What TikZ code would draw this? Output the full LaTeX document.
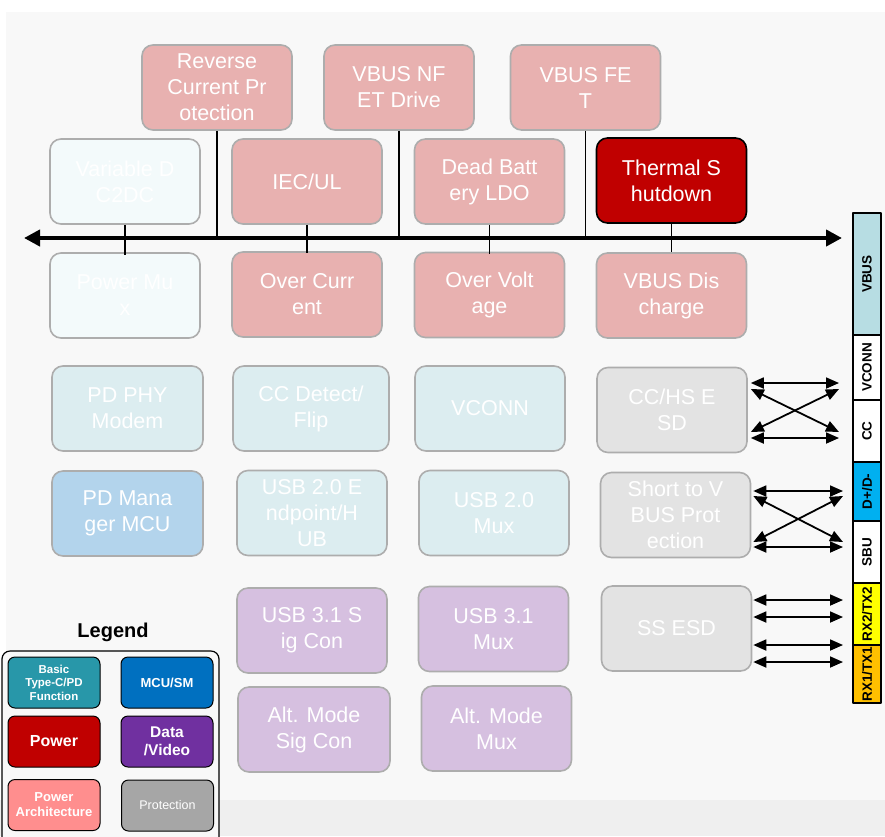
\documentclass[tikz,border=0pt]{standalone}
\usepackage{fontspec}
\setmainfont{Liberation Sans}
\usetikzlibrary{arrows.meta,calc}

\definecolor{panel}{HTML}{F8F8F8}
\definecolor{floorgray}{HTML}{EFEFEF}
\definecolor{bordergray}{HTML}{ADADAD}
\definecolor{pafade}{HTML}{E8B1B0}
\definecolor{basicfade}{HTML}{DCEDF0}
\definecolor{basicpale}{HTML}{F3FAFB}
\definecolor{mcufade}{HTML}{B3D4EC}
\definecolor{datafade}{HTML}{D6C0E0}
\definecolor{protfade}{HTML}{E3E3E3}
\definecolor{powerred}{HTML}{C00000}
\definecolor{basicteal}{HTML}{2897A9}
\definecolor{mcublue}{HTML}{0070C0}
\definecolor{datapurple}{HTML}{7030A0}
\definecolor{palegend}{HTML}{FF8E8E}
\definecolor{protgray}{HTML}{A6A6A6}
\definecolor{vbusteal}{HTML}{B7DDE3}
\definecolor{dpdmblue}{HTML}{00B0F0}
\definecolor{rxtwo}{HTML}{FFFF00}
\definecolor{rxone}{HTML}{FFC000}

\begin{document}
\begin{tikzpicture}[x=1pt,y=-1pt,line join=round,every node/.style={inner sep=1pt},
  blk/.style={draw=bordergray,line width=1.6pt,rounded corners=11pt,minimum width=150pt,minimum height=85pt,align=center,text=white,font=\fontsize{21.5}{26}\selectfont},
  legitem/.style={draw=black,line width=1pt,rounded corners=7pt,minimum width=92pt,minimum height=51pt,align=center,text=white,font=\bfseries\fontsize{12}{14}\selectfont},
  pinseg/.style={draw=black,line width=1.3pt,minimum height=28pt,rotate=90,inner sep=0pt,font=\bfseries\fontsize{13.5}{15}\selectfont},
  busline/.style={{Triangle[length=16pt,width=16pt]}-{Triangle[length=16pt,width=16pt]},line width=4pt},
  tick/.style={line width=1.8pt},
  sig/.style={{Triangle[length=13pt,width=11pt]}-{Triangle[length=13pt,width=11pt]},line width=1.8pt}]
  \def\pinl{839}
  \def\pinr{843}
  % background
  \clip (0,0) rectangle (885,836);
  \fill[white] (0,0) rectangle (885,836);
  \fill[panel] (6,12) rectangle (885,800);
  \fill[floorgray] (0,800) rectangle (885,836);
  % top row: power architecture
  \node[blk,fill=pafade] (rcp) at (217,87.5) {Reverse\\Current Pr\\otection};
  \node[blk,fill=pafade] (nfet) at (399,87.5) {VBUS NF\\ET Drive};
  \node[blk,fill=pafade] (fet) at (585.5,87.5) {VBUS FE\\T};
  % row above the bus
  \node[blk,fill=basicpale] (dcdc) at (125,181.5) {Variable D\\C2DC};
  \node[blk,fill=pafade] (iec) at (307,181.5) {IEC/UL};
  \node[blk,fill=pafade] (dbl) at (489.5,181.5) {Dead Batt\\ery LDO};
  \node[blk,draw=black,fill=powerred] (tsd) at (671.5,180.5) {Thermal S\\hutdown};
  % row below the bus
  \node[blk,fill=basicpale] (pmux) at (125,295.5) {Power Mu\\x};
  \node[blk,fill=pafade] (ocp) at (307,294.5) {Over Curr\\ent};
  \node[blk,fill=pafade] (ovp) at (489.5,295) {Over Volt\\age};
  \node[blk,fill=pafade] (vdis) at (671.5,295.5) {VBUS Dis\\charge};
  % bus
  \coordinate (busL) at (24,238);
  \coordinate (busR) at (842,238);
  \draw[busline] (busL) -- (busR);
  \draw[tick] (rcp.south) -- (rcp.south |- busL);
  \draw[tick] (nfet.south) -- (nfet.south |- busL);
  \draw[tick] (fet.south) -- (fet.south |- busL);
  \draw[tick] (dcdc.south) -- ([yshift=-3pt]pmux.north);
  \draw[tick] (iec.south) -- ([yshift=-2pt]ocp.north);
  \draw[tick] (dbl.south) -- ([yshift=-2pt]ovp.north);
  \draw[tick] (tsd.south) -- (vdis.north);
  % row 4
  \node[blk,fill=basicfade,minimum width=151pt] (phy) at (127.5,408.5) {PD PHY\\Modem};
  \node[blk,fill=basicfade,minimum width=156pt] (ccd) at (311,408.5) {CC Detect/\\Flip};
  \node[blk,fill=basicfade] (vcn) at (490,408.5) {VCONN};
  \node[blk,fill=protfade] (cchs) at (672,410) {CC/HS E\\SD};
  % row 5
  \node[blk,fill=mcufade,minimum width=151pt] (pdm) at (127.5,513.5) {PD Mana\\ger MCU};
  \node[blk,fill=basicfade] (usbe) at (312,513) {USB 2.0 E\\ndpoint/H\\UB};
  \node[blk,fill=basicfade] (usbm) at (494,513) {USB 2.0\\Mux};
  \node[blk,fill=protfade] (stv) at (675.5,515) {Short to V\\BUS Prot\\ection};
  % row 6 and 7: data/video
  \node[blk,fill=datafade] (u31s) at (312,630.5) {USB 3.1 S\\ig Con};
  \node[blk,fill=datafade] (u31m) at (493.5,629) {USB 3.1\\Mux};
  \node[blk,fill=protfade] (ssesd) at (676.5,628.5) {SS ESD};
  \node[blk,fill=datafade,minimum width=152pt] (alts) at (314,729.5) {Alt. Mode\\Sig Con};
  \node[blk,fill=datafade] (altm) at (496.5,728.5) {Alt. Mode\\Mux};
  % connector pins
  \node[pinseg,fill=vbusteal,minimum width=122pt] (vbus) at (867,274) {VBUS};
  \node[pinseg,fill=white,minimum width=65pt] (vconn) at (867,367.5) {VCONN};
  \node[pinseg,fill=white,minimum width=62pt] (cc) at (867,431) {CC};
  \node[pinseg,fill=dpdmblue,minimum width=59pt] (dpdm) at (867,491.5) {D+/D-};
  \node[pinseg,fill=white,minimum width=62pt] (sbu) at (867,552) {SBU};
  \node[pinseg,fill=rxtwo,minimum width=62pt] (rxb) at (867,614) {RX2/TX2};
  \node[pinseg,fill=rxone,minimum width=58pt] (rxa) at (867,674) {RX1/TX1};
  % esd lines to the pins
  \coordinate (cchsR) at ([xshift=3pt]cchs.east);
  \coordinate (stvR) at ([xshift=2pt]stv.east);
  \coordinate (ssR) at ([xshift=1pt]ssesd.east);
  \coordinate (vconnIn) at (\pinl,383);
  \coordinate (ccIn) at (\pinl,438);
  \coordinate (vconnX) at (\pinl,389);
  \coordinate (ccX) at (\pinl,432);
  \draw[sig] (cchsR |- vconnIn) -- (vconnIn);
  \draw[sig] (cchsR |- ccIn) -- (ccIn);
  \draw[sig] (cchsR |- vconnX) -- (ccX);
  \draw[sig] (cchsR |- ccX) -- (vconnX);
  \coordinate (dpIn) at (\pinr,491);
  \coordinate (sbuIn) at (\pinr,547);
  \coordinate (dpX) at (\pinr,496);
  \coordinate (sbuX) at (\pinr,542);
  \draw[sig] (stvR |- dpIn) -- (dpIn);
  \draw[sig] (stvR |- sbuIn) -- (sbuIn);
  \draw[sig] (stvR |- dpX) -- (sbuX);
  \draw[sig] (stvR |- sbuX) -- (dpX);
  \coordinate (rxbA) at (\pinr,600);
  \coordinate (rxbB) at (\pinr,617);
  \coordinate (rxaA) at (\pinr,645);
  \coordinate (rxaB) at (\pinr,662);
  \draw[sig] (ssR |- rxbA) -- (rxbA);
  \draw[sig] (ssR |- rxbB) -- (rxbB);
  \draw[sig] (ssR |- rxaA) -- (rxaA);
  \draw[sig] (ssR |- rxaB) -- (rxaB);
  % legend
  \node[font=\bfseries\fontsize{20}{24}\selectfont] (legtitle) at (113,632) {Legend};
  \draw[line width=1.2pt,rounded corners=8pt,fill=panel] (2,651) rectangle (219,850);
  \node[legitem,fill=basicteal,font=\bfseries\fontsize{11.5}{13.5}\selectfont] (lbasic) at (54,682.5) {Basic\\Type-C/PD\\Function};
  \node[legitem,fill=mcublue,font=\bfseries\fontsize{13}{15}\selectfont] (lmcu) at (167,682.5) {MCU/SM};
  \node[legitem,fill=powerred,font=\bfseries\fontsize{16}{18}\selectfont] (lpower) at (54,741.5) {Power};
  \node[legitem,fill=datapurple,font=\bfseries\fontsize{15.5}{18}\selectfont] (ldata) at (167,741.5) {Data\\/Video};
  \node[legitem,fill=palegend,font=\bfseries\fontsize{13}{15}\selectfont] (lpa) at (54,805) {Power\\Architecture};
  \node[legitem,fill=protgray,font=\fontsize{12.5}{14}\selectfont] (lprot) at (167.5,805.5) {Protection};
\end{tikzpicture}
\end{document}
